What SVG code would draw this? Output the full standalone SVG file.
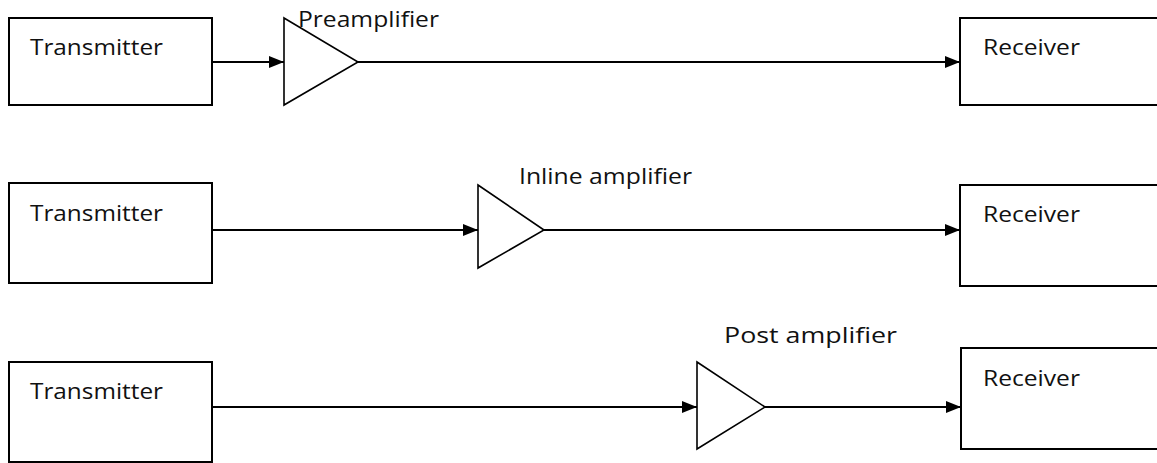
<svg xmlns="http://www.w3.org/2000/svg" width="1157" height="463" viewBox="0 0 1157 463">
  <style>
    .box { fill: #fff; stroke: #000; stroke-width: 2; }
    .amp { fill: #fff; stroke: #000; stroke-width: 1.6; stroke-linejoin: miter; }
    .wire { fill: none; stroke: #000; stroke-width: 2; marker-end: url(#arrow); }
    .lbl { font-family: "Open Sans", "Liberation Sans", sans-serif; font-size: 22.5px; fill: #111; }
  </style>
  <defs>
    <marker id="arrow" viewBox="0 0 15 12" refX="15" refY="6" markerWidth="15" markerHeight="12" markerUnits="userSpaceOnUse" orient="auto">
      <path d="M0,0 L15,6 L0,12 Z" fill="#000"/>
    </marker>
  </defs>
  <rect width="1157" height="463" fill="#fff"/>

  <!-- Row 1: preamplifier -->
  <g id="tx1"><rect class="box" x="9" y="18" width="203" height="87"/><text class="lbl" x="30" y="55" textLength="133" lengthAdjust="spacingAndGlyphs">Transmitter</text></g>
  <g id="amp1"><polygon class="amp" points="284,18 358,62 284,105"/><text class="lbl" x="298" y="27" textLength="141" lengthAdjust="spacingAndGlyphs">Preamplifier</text></g>
  <g id="rx1"><rect class="box" x="960" y="18" width="200" height="87"/><text class="lbl" x="983" y="55" textLength="97" lengthAdjust="spacingAndGlyphs">Receiver</text></g>

  <!-- Row 2: inline amplifier -->
  <g id="tx2"><rect class="box" x="9" y="183" width="203" height="100"/><text class="lbl" x="30" y="221" textLength="133" lengthAdjust="spacingAndGlyphs">Transmitter</text></g>
  <g id="amp2"><polygon class="amp" points="478,185 544,230 478,268"/><text class="lbl" x="519" y="184" textLength="173" lengthAdjust="spacingAndGlyphs">Inline amplifier</text></g>
  <g id="rx2"><rect class="box" x="960" y="185" width="200" height="101"/><text class="lbl" x="983" y="222" textLength="97" lengthAdjust="spacingAndGlyphs">Receiver</text></g>

  <!-- Row 3: post amplifier -->
  <g id="tx3"><rect class="box" x="9" y="362" width="203" height="100"/><text class="lbl" x="30" y="399" textLength="133" lengthAdjust="spacingAndGlyphs">Transmitter</text></g>
  <g id="amp3"><polygon class="amp" points="697,362 765,407 697,449"/><text class="lbl" x="724" y="343" textLength="173" lengthAdjust="spacingAndGlyphs">Post amplifier</text></g>
  <g id="rx3"><rect class="box" x="961" y="348" width="200" height="101"/><text class="lbl" x="983" y="386" textLength="97" lengthAdjust="spacingAndGlyphs">Receiver</text></g>

  <g id="connectors">
    <line class="wire" x1="212" y1="62" x2="284" y2="62"/>
    <line class="wire" x1="358" y1="62" x2="960" y2="62"/>
    <line class="wire" x1="212" y1="230" x2="478" y2="230"/>
    <line class="wire" x1="544" y1="230" x2="960" y2="230"/>
    <line class="wire" x1="212" y1="407" x2="697" y2="407"/>
    <line class="wire" x1="765" y1="407" x2="961" y2="407"/>
  </g>
</svg>
